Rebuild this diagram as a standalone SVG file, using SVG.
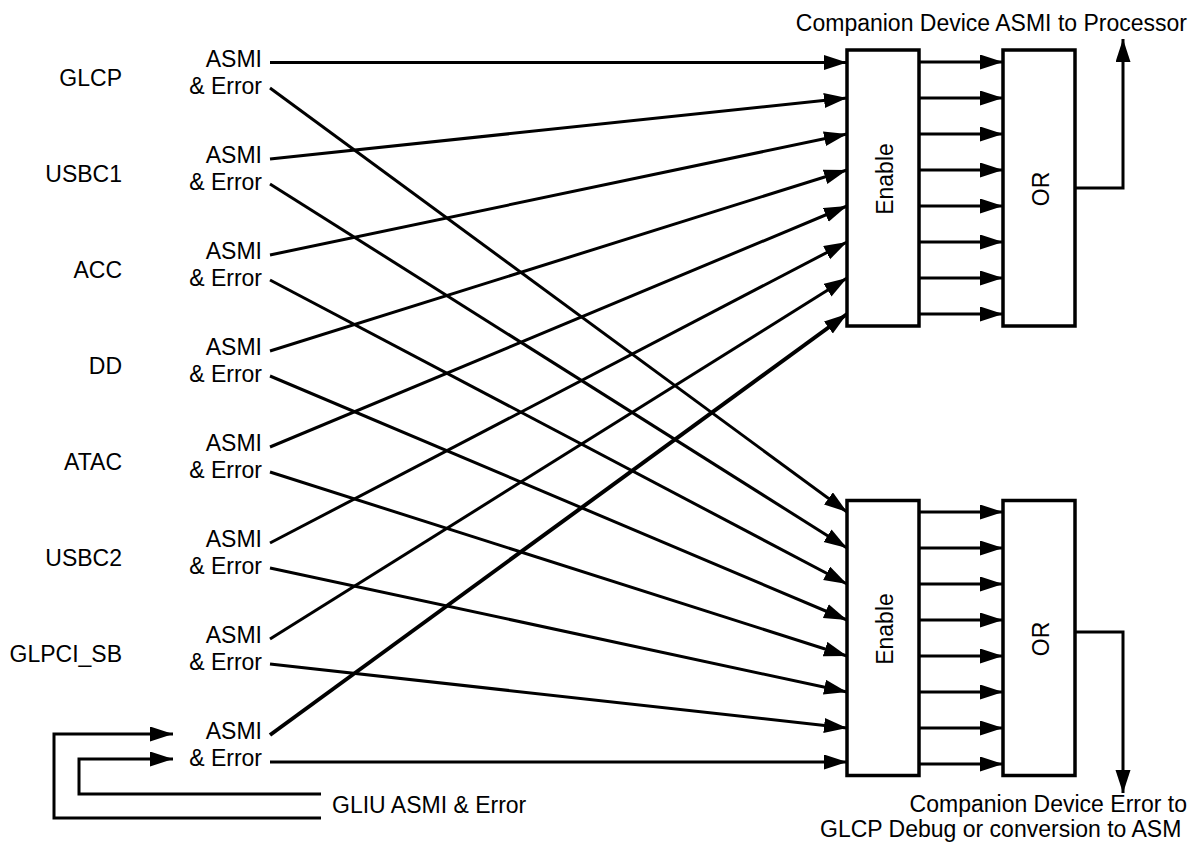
<svg xmlns="http://www.w3.org/2000/svg" width="1204" height="844" viewBox="0 0 1204 844">
<defs>
<marker id="ah" markerUnits="userSpaceOnUse" markerWidth="24" markerHeight="16" refX="23" refY="7.5" orient="auto" viewBox="0 0 24 16">
<path d="M0,0 L23,7.5 L0,15 z" fill="#000"/>
</marker>
<style>
text{font-family:"Liberation Sans",Arial,sans-serif;font-size:23px;fill:#000}
.r{text-anchor:end}
.m{text-anchor:middle}
.box{fill:#fff;stroke:#000;stroke-width:3.5}
.c{fill:none;stroke:#000;stroke-width:3;marker-end:url(#ah)}
.p{fill:none;stroke:#000;stroke-width:3}
</style>
</defs>
<rect width="1204" height="844" fill="#fff"/>

<g id="sources">
<g id="src-glcp"><text class="r" x="122" y="85.5">GLCP</text><text class="r" x="262" y="67">ASMI</text><text class="r" x="262" y="93.5">&amp; Error</text></g>
<g id="src-usbc1"><text class="r" x="122" y="181.5">USBC1</text><text class="r" x="262" y="163">ASMI</text><text class="r" x="262" y="189.5">&amp; Error</text></g>
<g id="src-acc"><text class="r" x="122" y="277.5">ACC</text><text class="r" x="262" y="259">ASMI</text><text class="r" x="262" y="285.5">&amp; Error</text></g>
<g id="src-dd"><text class="r" x="122" y="373.5">DD</text><text class="r" x="262" y="355">ASMI</text><text class="r" x="262" y="381.5">&amp; Error</text></g>
<g id="src-atac"><text class="r" x="122" y="469.5">ATAC</text><text class="r" x="262" y="451">ASMI</text><text class="r" x="262" y="477.5">&amp; Error</text></g>
<g id="src-usbc2"><text class="r" x="122" y="565.5">USBC2</text><text class="r" x="262" y="547">ASMI</text><text class="r" x="262" y="573.5">&amp; Error</text></g>
<g id="src-glpci"><text class="r" x="122" y="661.5">GLPCI_SB</text><text class="r" x="262" y="643">ASMI</text><text class="r" x="262" y="669.5">&amp; Error</text></g>
<g id="src-gliu"><text class="r" x="262" y="739">ASMI</text><text class="r" x="262" y="765.5">&amp; Error</text><text x="332" y="813">GLIU ASMI &amp; Error</text></g>
</g>

<g id="enable-top"><rect class="box" x="847" y="50" width="72" height="276"/><text class="m" transform="translate(893,179) rotate(-90)">Enable</text></g>
<g id="or-top"><rect class="box" x="1003" y="50" width="72" height="276"/><text class="m" transform="translate(1049,189) rotate(-90)">OR</text></g>
<g id="enable-bot"><rect class="box" x="847" y="500.5" width="72" height="275"/><text class="m" transform="translate(893,629) rotate(-90)">Enable</text></g>
<g id="or-bot"><rect class="box" x="1003" y="500.5" width="72" height="275"/><text class="m" transform="translate(1049,639) rotate(-90)">OR</text></g>

<g id="out-labels">
<text class="r" x="1187" y="31">Companion Device ASMI to Processor</text>
<text class="r" x="1187" y="812">Companion Device Error to</text>
<text x="820" y="837">GLCP Debug or conversion to ASM</text>
</g>

<g id="connectors">
<line class="c" x1="270" y1="62.5" x2="847" y2="62.5"/>
<line class="c" x1="270" y1="159" x2="847" y2="98"/>
<line class="c" x1="270" y1="255" x2="847" y2="134"/>
<line class="c" x1="270" y1="351" x2="847" y2="170"/>
<line class="c" x1="270" y1="447" x2="847" y2="206"/>
<line class="c" x1="270" y1="543" x2="847" y2="242"/>
<line class="c" x1="270" y1="639" x2="847" y2="278"/>
<line class="c" style="stroke-width:4" x1="270" y1="735" x2="847" y2="314"/>
<line class="c" x1="270" y1="88" x2="847" y2="512"/>
<line class="c" x1="270" y1="184" x2="847" y2="548"/>
<line class="c" x1="270" y1="280" x2="847" y2="584"/>
<line class="c" x1="270" y1="376" x2="847" y2="620"/>
<line class="c" x1="270" y1="472" x2="847" y2="656"/>
<line class="c" x1="270" y1="568" x2="847" y2="692"/>
<line class="c" x1="270" y1="664" x2="847" y2="728"/>
<line class="c" x1="270" y1="762" x2="847" y2="762"/>
<line class="c" x1="919" y1="62" x2="1003" y2="62"/>
<line class="c" x1="919" y1="98" x2="1003" y2="98"/>
<line class="c" x1="919" y1="134" x2="1003" y2="134"/>
<line class="c" x1="919" y1="170" x2="1003" y2="170"/>
<line class="c" x1="919" y1="206" x2="1003" y2="206"/>
<line class="c" x1="919" y1="242" x2="1003" y2="242"/>
<line class="c" x1="919" y1="278" x2="1003" y2="278"/>
<line class="c" x1="919" y1="314" x2="1003" y2="314"/>
<line class="c" x1="919" y1="512" x2="1003" y2="512"/>
<line class="c" x1="919" y1="548" x2="1003" y2="548"/>
<line class="c" x1="919" y1="584" x2="1003" y2="584"/>
<line class="c" x1="919" y1="620" x2="1003" y2="620"/>
<line class="c" x1="919" y1="656" x2="1003" y2="656"/>
<line class="c" x1="919" y1="692" x2="1003" y2="692"/>
<line class="c" x1="919" y1="728" x2="1003" y2="728"/>
<line class="c" x1="919" y1="764" x2="1003" y2="764"/>
<polyline class="c" points="1075,188 1123,188 1123,39"/>
<polyline class="c" points="1075,632 1123,632 1123,793"/>
<polyline class="c" points="321,818 54,818 54,734 173,734"/>
<polyline class="c" points="321,794 79,794 79,759 173,759"/>
</g>
</svg>
